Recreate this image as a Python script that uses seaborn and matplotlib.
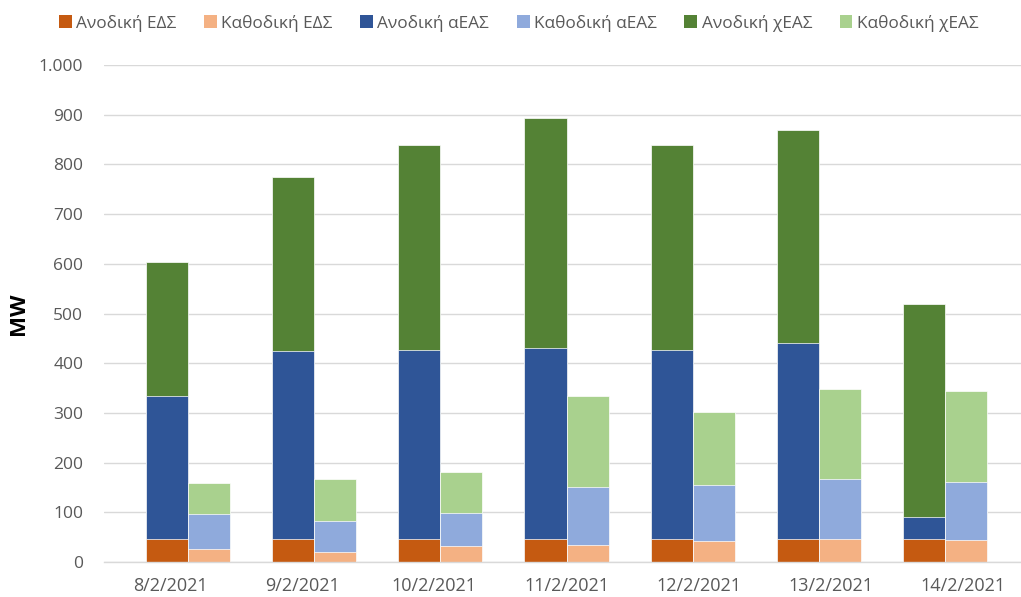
import numpy as np
import matplotlib
matplotlib.use("Agg")
import matplotlib.pyplot as plt
from matplotlib.patches import Patch
from matplotlib.ticker import FuncFormatter, FixedLocator
import seaborn as sns

# data (MW)
dates = ["8/2/2021", "9/2/2021", "10/2/2021", "11/2/2021",
         "12/2/2021", "13/2/2021", "14/2/2021"]
anod_eds = [46, 46, 46, 46, 46, 46, 46]
anod_aeas = [288, 379, 380, 385, 380, 395, 45]
anod_xeas = [269, 350, 413, 462, 413, 429, 429]
kath_eds = [27, 20, 32, 34, 43, 46, 44]
kath_aeas = [69, 62, 67, 117, 112, 122, 116]
kath_xeas = [62, 84, 83, 183, 147, 181, 185]

labels = ["Ανοδική ΕΔΣ", "Καθοδική ΕΔΣ", "Ανοδική αΕΑΣ",
          "Καθοδική αΕΑΣ", "Ανοδική χΕΑΣ", "Καθοδική χΕΑΣ"]
colors = ["#C55A11", "#F4B183", "#2F5597", "#8FAADC", "#548235", "#A9D18E"]

sns.set_style("white")
plt.rcParams["font.family"] = ["Open Sans", "DejaVu Sans"]

grey_txt = "#595959"
grid_col = "#D9D9D9"

fig = plt.figure(figsize=(10.21, 5.97), dpi=100)
ax = fig.add_axes([104 / 1021, 35 / 597, 925 / 1021, 497 / 597])

# bar slots: one leading blank slot, then (anodic, cathodic, blank) per date
n = len(dates)
idx = np.arange(n)
pos_a = 1.0 + 3 * idx
pos_k = 2.0 + 3 * idx

# stacked by drawing cumulative heights, tallest first
a1 = np.array(anod_eds)
a2 = a1 + np.array(anod_aeas)
a3 = a2 + np.array(anod_xeas)
k1 = np.array(kath_eds)
k2 = k1 + np.array(kath_aeas)
k3 = k2 + np.array(kath_xeas)

layers = [
    (pos_a, a3, colors[4]), (pos_a, a2, colors[2]), (pos_a, a1, colors[0]),
    (pos_k, k3, colors[5]), (pos_k, k2, colors[3]), (pos_k, k1, colors[1]),
]
for pos, h, c in layers:
    sns.barplot(x=pos, y=h, native_scale=True, orient="x", width=1 / 3,
                color=c, saturation=1, errorbar=None, ax=ax,
                edgecolor="white", linewidth=0.5, zorder=3)

ax.set_xlim(-0.5, 21.5)
ax.set_ylim(0, 1000)
ax.set_yticks(np.arange(0, 1001, 100))
ax.yaxis.set_major_formatter(FuncFormatter(lambda v, p: f"{int(v):,}".replace(",", ".")))
ax.grid(axis="y", color=grid_col, linewidth=1.0, zorder=0)
ax.set_axisbelow(True)

# category labels centred in 7 equal slots, boundary ticks between them
span = 22.0 / n
ax.xaxis.set_major_locator(FixedLocator(-0.5 + span * (idx + 0.5)))
ax.set_xticklabels(dates)
ax.xaxis.set_minor_locator(FixedLocator(-0.5 + span * np.arange(n + 1)))
ax.tick_params(axis="x", which="major", length=0, pad=11, labelsize=13, labelcolor=grey_txt)
ax.tick_params(axis="x", which="minor", length=6, width=1, color=grid_col)
ax.tick_params(axis="y", length=0, pad=15, labelsize=12.5, labelcolor=grey_txt)
ax.set_xlabel("")

for s in ["top", "right", "left"]:
    ax.spines[s].set_visible(False)
ax.spines["bottom"].set_color(grid_col)
ax.spines["bottom"].set_linewidth(1.0)
ax.spines["bottom"].set_zorder(4)

ax.set_ylabel("MW", fontsize=16, fontweight="bold", color="black", labelpad=7)

handles = [Patch(facecolor=c, edgecolor="none") for c in colors]
fig.legend(handles, labels, loc="center", bbox_to_anchor=(0.508, 1 - 23 / 597),
           ncol=6, frameon=False, fontsize=12.4, labelcolor=grey_txt,
           handlelength=0.75, handleheight=0.75, handletextpad=0.25, columnspacing=1.6)

fig.savefig("out.png", dpi=100)
